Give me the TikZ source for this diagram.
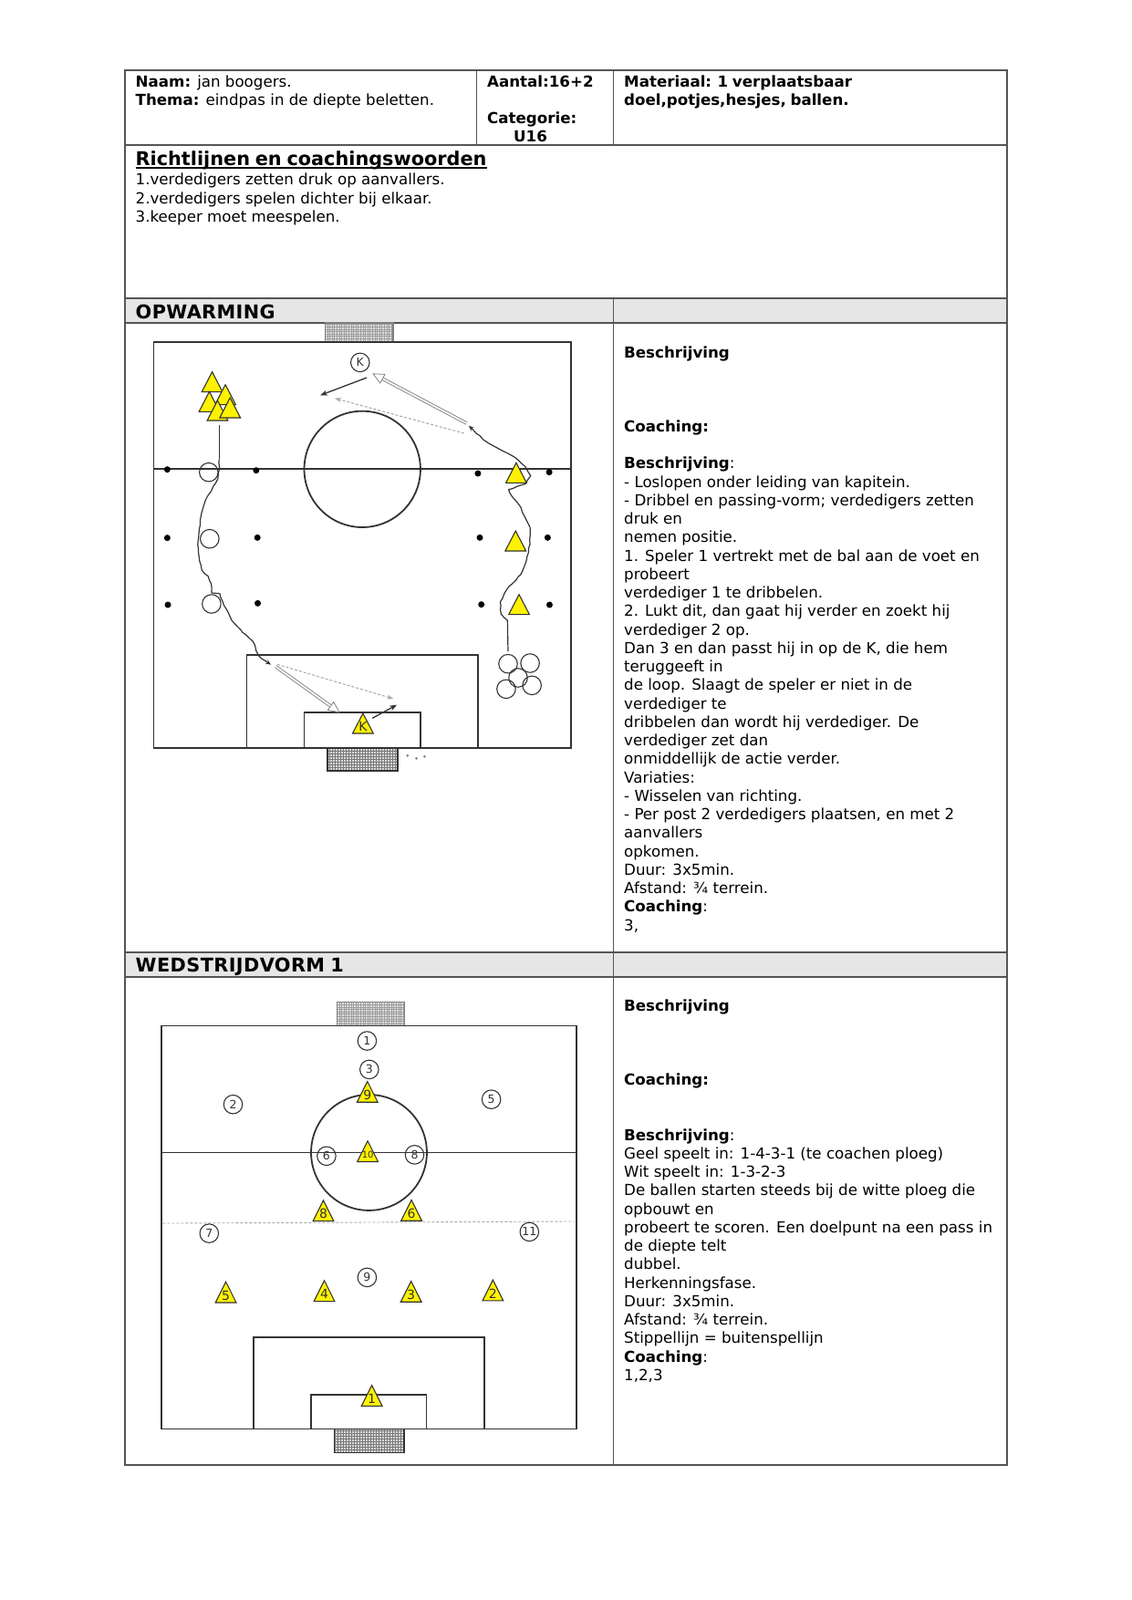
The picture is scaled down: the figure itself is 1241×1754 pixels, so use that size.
\documentclass[tikz,border=0pt]{standalone}
\usepackage{fontspec}
\setmainfont[BoldFeatures={WordSpace=0.8}]{DejaVu Sans}
\usetikzlibrary{arrows.meta,decorations.pathmorphing}
\definecolor{rule}{HTML}{555555}
\definecolor{hdr}{HTML}{E6E6E6}
\definecolor{ln}{HTML}{333333}
\definecolor{yel}{HTML}{FFF200}
\tikzset{
  cellline/.style={draw=rule,line width=1.25pt},
  bodytext/.style={anchor=north west,inner sep=0pt,align=left,font=\fontsize{16.67}{20.25}\selectfont},
  headtext/.style={anchor=base west,inner sep=0pt,font=\fontsize{20.8}{24}\selectfont\bfseries},
  pline/.style={draw=ln,line width=1.8pt},
  thinline/.style={draw=gray,line width=1.1pt},
  wig/.style={draw=ln,line width=1.2pt,line join=round},
  wob/.style={wig,decorate,decoration={random steps,segment length=5pt,amplitude=.6pt}},
  plyr/.style={circle,draw=ln,line width=1.1pt,minimum size=20.5pt,inner sep=0pt,text=ln,font=\fontsize{12.5}{12.5}\selectfont},
  bigc/.style={circle,draw=ln,line width=1.1pt,minimum size=20.5pt,inner sep=0pt},
  tridraw/.style={draw=ln,line width=1.1pt,fill=yel,line join=miter},
  trilab/.style={inner sep=0pt,text=ln,font=\fontsize{14}{14}\selectfont},
  spot/.style={circle,fill=black,minimum size=7pt,inner sep=0pt},
  speck/.style={circle,fill=gray,minimum size=3pt,inner sep=0pt},
  netlight/.style={draw=gray!75,line width=.35pt,step=2.6pt},
  netdark/.style={draw=gray!95!black,line width=.5pt,step=3pt},
  solarrow/.style={draw=ln,line width=1.3pt,-{Stealth[length=8pt,width=6pt]}},
  dasharrow/.style={draw=gray!70,line width=1pt,densely dashed,-{Stealth[length=7pt,width=5pt,open]}},
  holarrow/.style={draw=gray,line width=3.6pt,-{Triangle[length=13pt,width=12pt,fill=white,line width=.8pt]}},
  holcore/.style={draw=white,line width=1.8pt}
}
\newcommand{\tria}[4]{%
  \draw[tridraw] ({#1-33},{#2+66}) -- (#1,#2) -- ({#1+33},{#2+66}) -- cycle;
  \node[trilab] (#3) at (#1,{#2+43}) {#4};}
\newcommand{\holl}[2]{%
  \draw[holarrow] (#1) -- (#2);
  \draw[holcore,shorten >=13pt] (#1) -- (#2);}
\begin{document}
\begin{tikzpicture}[x=1pt,y=-1pt]
\useasboundingbox (0,0) rectangle (1241,1754);
% table
\fill[hdr] (137,327) rectangle (1104,354);
\fill[hdr] (137,1044) rectangle (1104,1071);
\draw[cellline] (137,77) rectangle (1104,1606);
\draw[cellline] (137,159) -- (1104,159);
\draw[cellline] (137,327) -- (1104,327);
\draw[cellline] (137,354) -- (1104,354);
\draw[cellline] (137,1044) -- (1104,1044);
\draw[cellline] (137,1071) -- (1104,1071);
\draw[cellline] (522.5,77) -- (522.5,159);
\draw[cellline] (672.5,77) -- (672.5,159);
\draw[cellline] (672.5,327) -- (672.5,1606);
% texts
\node[bodytext] (t1) at (148.5,82.3) {\textbf{Naam:} jan boogers.\\\textbf{Thema:} eindpas in de diepte beletten.};
\node[bodytext] (t2) at (534,82.3) {\textbf{Aantal:16+2}\\[20.25pt]\textbf{Categorie:}\\\hspace*{29pt}\textbf{U16}};
\node[bodytext] (t3) at (684,82.3) {\textbf{Materiaal: 1 verplaatsbaar}\\\textbf{doel,potjes,hesjes, ballen.}};
\node[headtext] (h1) at (148.5,181) {Richtlijnen en coachingswoorden};
\draw[black,line width=1.5pt] ([yshift=-3pt]h1.base west) -- ([yshift=-3pt]h1.base east);
\node[bodytext] (t4) at (148.5,189.4) {1.verdedigers zetten druk op aanvallers.\\[.6pt]2.verdedigers spelen dichter bij elkaar.\\[.6pt]3.keeper moet meespelen.};
\node[headtext] (h2) at (148.5,349) {\addfontfeature{LetterSpace=1.8}OPWARMING};
\node[headtext] (h3) at (148.5,1065.5) {\addfontfeature{LetterSpace=2}WEDSTRIJDVORM 1};
\node[bodytext] (t5) at (684,379.4) {\textbf{Beschrijving}\\[60.75pt]\textbf{Coaching:}\\[20.25pt]\textbf{Beschrijving}:\\
- Loslopen onder leiding van kapitein.\\
- Dribbel en passing-vorm; verdedigers zetten\\
druk en\\
nemen positie.\\
1. Speler 1 vertrekt met de bal aan de voet en\\
probeert\\
verdediger 1 te dribbelen.\\
2. Lukt dit, dan gaat hij verder en zoekt hij\\
verdediger 2 op.\\
Dan 3 en dan passt hij in op de K, die hem\\
teruggeeft in\\
de loop. Slaagt de speler er niet in de\\
verdediger te\\
dribbelen dan wordt hij verdediger. De\\
verdediger zet dan\\
onmiddellijk de actie verder.\\
Variaties:\\
- Wisselen van richting.\\
- Per post 2 verdedigers plaatsen, en met 2\\
aanvallers\\
opkomen.\\
Duur: 3x5min.\\
Afstand: ¾ terrein.\\
\textbf{Coaching}:\\
3,};
\node[bodytext] (t6) at (684,1095.4) {\textbf{Beschrijving}\\[60.75pt]\textbf{Coaching:}\\[40.5pt]\textbf{Beschrijving}:\\
Geel speelt in: 1-4-3-1 (te coachen ploeg)\\
Wit speelt in: 1-3-2-3\\
De ballen starten steeds bij de witte ploeg die\\
opbouwt en\\
probeert te scoren. Een doelpunt na een pass in\\
de diepte telt\\
dubbel.\\
Herkenningsfase.\\
Duur: 3x5min.\\
Afstand: ¾ terrein.\\
Stippellijn = buitenspellijn\\
\textbf{Coaching}:\\
1,2,3};
% ---------- pitch 1
\begin{scope}[shift={(130,340)},x=0.34435pt,y=-0.33333pt]
\fill[gray!25] (658,42) rectangle (874,104);
\begin{scope}\clip (658,42) rectangle (874,104);
\draw[netlight] (600,0) grid (900,130);\end{scope}
\fill[gray!30] (664,1440) rectangle (888,1515);
\begin{scope}\clip (664,1440) rectangle (888,1515);
\draw[netdark] (600,1400) grid (900,1560);\end{scope}
\draw[thinline] (658,42) rectangle (874,104);
\draw[pline] (664,1440) rectangle (888,1515);
\draw[pline] (112,104) rectangle (1440,1440);
\draw[pline] (112,523) -- (1440,523);
\draw[pline] (776,523) ellipse [x radius=185,y radius=191];
\draw[pline] (408,1440) -- (408,1134) -- (1145,1134) -- (1145,1440);
\draw[pline] (591,1440) -- (591,1324) -- (961,1324) -- (961,1440);
% spots
\foreach \n/\a/\b in {a/155/524,b/438/527,c/1144/537,d/1371/533,e/155/749,f/442/748,g/1150/748,h/1366/748,i/157/969,j/443/964,k/1155/968,l/1372/969}
  \node[spot] (s\n) at (\a,\b) {};
\foreach \n/\a/\b in {x/920/1465,y/948/1474,z/974/1468}
  \node[speck] (d\n) at (\a,\b) {};
% circles
\node[plyr] (kw) at (769,172) {K};
\foreach \n/\a/\b in {a/287/533,b/290/752,c/296/966,d/1240/1163,e/1310/1161,f/1234/1246,g/1316/1234,h/1272/1209}
  \node[bigc] (c\n) at (\a,\b) {};
% triangles
\tria{298}{203}{ta}{}
\tria{340}{245}{tb}{}
\tria{289}{268}{tc}{}
\tria{315}{297}{td}{}
\tria{355}{288}{te}{}
\tria{1266}{502}{tf}{}
\tria{1264}{726}{tg}{}
\tria{1275}{935}{th}{}
\tria{778}{1326}{tk}{K}
% wiggly runs
\coordinate (w1s) at (320,378);
\coordinate (w1m) at (320,490);
\coordinate (w1n) at (462,1150);
\coordinate (w1e) at (485,1166);
\coordinate (w2s) at (1240,1122);
\coordinate (w2m) at (1238,1020);
\coordinate (w2n) at (1130,395);
\coordinate (w2e) at (1115,380);
\draw[wig] (w1s) -- (w1m);
\draw[wob] (w1m) -- (322,520) -- (316,555) -- (295,595) -- (283,612) -- (272,640) -- (260,690) -- (252,770) -- (256,810) -- (265,855) -- (285,875) -- (295,900) -- (296,930) -- (322,932) -- (335,970) -- (347,990) -- (360,1020) -- (395,1060) -- (428,1090) -- (445,1135) -- (w1n);
\draw[wig,-{Stealth[length=6pt,width=5pt]}] (w1n) -- (w1e);
\draw[wig] (w2s) -- (w2m);
\draw[wob] (w2m) -- (1218,1000) -- (1215,960) -- (1235,920) -- (1280,870) -- (1298,825) -- (1310,770) -- (1310,715) -- (1298,690) -- (1275,640) -- (1252,612) -- (1242,590) -- (1295,572) -- (1312,545) -- (1295,515) -- (1255,480) -- (1200,450) -- (1160,425) -- (w2n);
\draw[wig,-{Stealth[length=6pt,width=5pt]}] (w2n) -- (w2e);
% passes
\coordinate (p1a) at (1108,372); \coordinate (p1b) at (808,208);
\coordinate (p2a) at (500,1172); \coordinate (p2b) at (705,1324);
\coordinate (p3a) at (790,222); \coordinate (p3b) at (642,280);
\coordinate (p4a) at (808,1342); \coordinate (p4b) at (886,1298);
\coordinate (p5a) at (1100,405); \coordinate (p5b) at (688,290);
\coordinate (p6a) at (505,1165); \coordinate (p6b) at (875,1278);
\holl{p1a}{p1b}
\holl{p2a}{p2b}
\draw[solarrow] (p3a) -- (p3b);
\draw[solarrow] (p4a) -- (p4b);
\draw[dasharrow] (p5a) -- (p5b);
\draw[dasharrow] (p6a) -- (p6b);
\end{scope}
% ---------- pitch 2
\begin{scope}[shift={(130,1070)},x=0.34483pt,y=-0.34483pt]
\fill[gray!25] (695,83) rectangle (909,157);
\begin{scope}\clip (695,83) rectangle (909,157);
\draw[netlight] (600,0) grid (1000,200);\end{scope}
\fill[gray!30] (686,1440) rectangle (908,1515);
\begin{scope}\clip (686,1440) rectangle (908,1515);
\draw[netdark] (600,1400) grid (1000,1560);\end{scope}
\draw[thinline] (695,83) rectangle (909,157);
\draw[pline] (686,1440) rectangle (908,1515);
\draw[pline] (137,158) rectangle (1456,1440);
\draw[pline] (137,561) -- (1456,561);
\draw[pline] (796,561) circle [radius=184];
\draw[pline] (430,1440) -- (430,1148) -- (1162,1148) -- (1162,1440);
\draw[pline] (613,1440) -- (613,1330) -- (979,1330) -- (979,1440);
\coordinate (offa) at (140,786); \coordinate (offb) at (1450,780);
\draw[draw=gray!70,line width=.9pt,densely dashed] (offa) -- (offb);
\foreach \n/\l/\a/\b in {a/1/790/206,b/3/797/297,c/2/364/408,d/5/1185/392,e/6/661/572,f/8/941/568,g/7/288/818,h/11/1306/813,i/9/790/958}
  \node[plyr] (w\n) at (\a,\b) {\l};
\tria{791}{335}{ya}{9}
\tria{792}{524}{yb}{\fontsize{10}{10}\selectfont 10}
\tria{651}{713}{yc}{8}
\tria{931}{712}{yd}{6}
\tria{341}{972}{ye}{5}
\tria{654}{968}{yf}{4}
\tria{930}{970}{yg}{3}
\tria{1190}{966}{yh}{2}
\tria{805}{1301}{yi}{1}
\end{scope}
\end{tikzpicture}
\end{document}
